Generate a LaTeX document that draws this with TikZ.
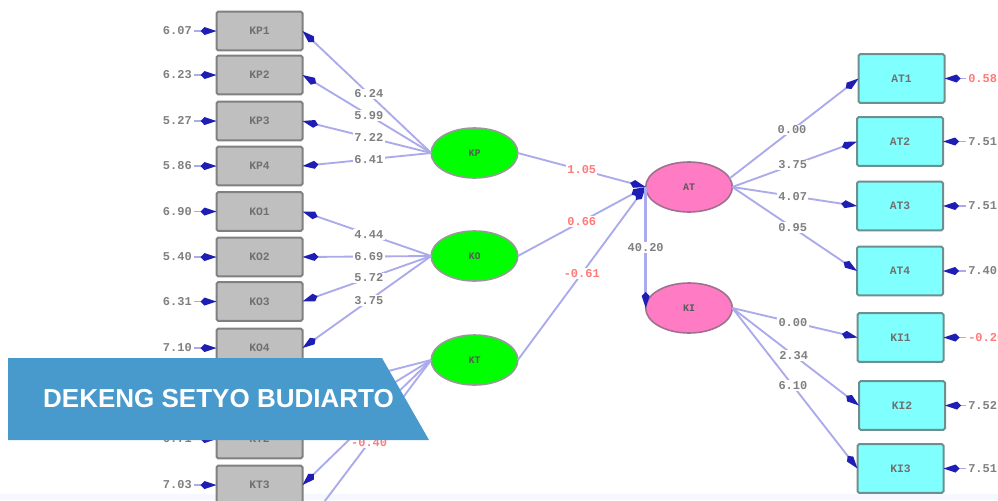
\documentclass[tikz,border=0pt]{standalone}
\usepackage{fontspec}
\setmainfont{Liberation Sans}
\newfontfamily\lisrel{Liberation Mono}
\usetikzlibrary{arrows.meta,shapes.geometric}
\definecolor{linecol}{HTML}{ABABEC}
\definecolor{tipcol}{HTML}{1E1EB4}
\definecolor{labgray}{HTML}{808080}
\definecolor{boxtext}{HTML}{707070}
\definecolor{labred}{HTML}{FF7A7A}
\definecolor{bannercol}{HTML}{4899CC}
\definecolor{cyanfill}{HTML}{80FFFF}
\definecolor{pinkfill}{HTML}{FF7CC4}
\definecolor{pinkedge}{HTML}{A07090}
\definecolor{cyanedge}{HTML}{6C9090}
\tikzset{
  x=0.75pt,y=-0.75pt,
  gbox/.style={draw=black!50,line width=1.5pt,rounded corners=1.2pt,fill=black!25,minimum width=64.5pt,minimum height=29pt,inner sep=0pt,outer sep=0pt,font=\lisrel\fontsize{8.5}{9}\selectfont\bfseries,text=boxtext},
  cbox/.style={draw=cyanedge,line width=1.5pt,rounded corners=1.2pt,fill=cyanfill,minimum width=64.5pt,minimum height=36.5pt,inner sep=0pt,outer sep=0pt,font=\lisrel\fontsize{8.5}{9}\selectfont\bfseries,text=boxtext},
  latent/.style={ellipse,line width=1.2pt,minimum width=65pt,minimum height=37.5pt,inner sep=0pt,outer sep=0pt,font=\lisrel\fontsize{7.5}{9}\selectfont\bfseries,text=black!65},
  ggreen/.style={latent,fill=green,draw=black!40},
  gpink/.style={latent,fill=pinkfill,draw=pinkedge},
  lab/.style={font=\lisrel\fontsize{9}{9}\selectfont\bfseries,text=labgray,inner sep=1pt,fill=white,pos=.484},
  elab/.style={font=\lisrel\fontsize{9}{9}\selectfont\bfseries,text=labgray,inner sep=1.5pt},
  redlab/.style={lab,text=labred},
  arr/.style={draw=linecol,line width=1.4pt,-{Kite[length=12pt,width=6pt,inset=3pt,color=tipcol]}},
  plain/.style={draw=linecol,line width=1.4pt},
  banner/.style={fill=bannercol,draw=none},
  bannertext/.style={text=white,font=\fontsize{19.5}{21}\selectfont\bfseries,inner sep=0pt}
}
\begin{document}
\begin{tikzpicture}
\clip (0,0) rectangle (998,500);
\fill[white] (0,0) rectangle (998,500);
\fill[blue!3] (0,494) rectangle (998,500);
% observed, left
\node[gbox] (kp1) at (259.5,31) {KP1};
\node[gbox] (kp2) at (259.5,75) {KP2};
\node[gbox] (kp3) at (259.5,121) {KP3};
\node[gbox] (kp4) at (259.5,166) {KP4};
\node[gbox] (ko1) at (259.5,211.5) {KO1};
\node[gbox] (ko2) at (259.5,257) {KO2};
\node[gbox] (ko3) at (259.5,301.5) {KO3};
\node[gbox] (ko4) at (259.5,348) {KO4};
\node[gbox] (kt1) at (259.5,393) {};
\node[gbox] (kt2) at (259.5,439) {KT2};
\node[gbox] (kt3) at (259.5,485) {KT3};
\coordinate (kt4) at (303,530);
% error labels, left
\foreach \n/\t/\y in {kp1/6.07/31,kp2/6.23/75,kp3/5.27/121,kp4/5.86/166,ko1/6.90/211.5,ko2/5.40/257,ko3/6.31/301.5,ko4/7.10/348,kt2/6.71/439,kt3/7.03/485}{
  \node[elab,anchor=east] (e\n) at (194,\y) {\t};
  \draw[arr] (e\n) -- (\n);
}
% latent
\node[ggreen] (kp) at (474.5,153) {KP};
\node[ggreen] (ko) at (474.5,256) {KO};
\node[ggreen] (kt) at (474.5,360) {KT};
\node[gpink] (at) at (689,187) {AT};
\node[gpink] (ki) at (689,308) {KI};
% observed, right
\node[cbox] (at1) at (901.5,78.5) {AT1};
\node[cbox] (at2) at (900,141.5) {AT2};
\node[cbox] (at3) at (900,206) {AT3};
\node[cbox] (at4) at (900,271) {AT4};
\node[cbox] (ki1) at (900.5,337.5) {KI1};
\node[cbox] (ki2) at (902,405.5) {KI2};
\node[cbox] (ki3) at (900.5,468.5) {KI3};
% loadings
\draw[arr] (kp.west) -- node[lab]{6.24} (kp1.east);
\draw[arr] (kp.west) -- node[lab]{5.99} (kp2.east);
\draw[arr] (kp.west) -- node[lab]{7.22} (kp3.east);
\draw[arr] (kp.west) -- node[lab]{6.41} (kp4.east);
\draw[arr] (ko.west) -- node[lab]{4.44} (ko1.east);
\draw[arr] (ko.west) -- node[lab]{6.69} (ko2.east);
\draw[arr] (ko.west) -- node[lab]{5.72} (ko3.east);
\draw[arr] (ko.west) -- node[lab]{3.75} (ko4.east);
\draw[arr] (kt.west) -- (kt1.east);
\draw[arr] (kt.west) -- (kt2.east);
\draw[arr] (kt.west) -- (kt3.east);
\draw[plain] (kt.west) -- node[redlab]{-0.40} (kt4);
% structural
\draw[arr] (kp.east) -- node[redlab,pos=.5]{1.05} (at.west);
\draw[arr] (ko.east) -- node[redlab,pos=.5]{0.66} (at.west);
\draw[arr] (kt.east) -- node[redlab,pos=.5]{-0.61} (at.west);
\draw[arr,line width=1.9pt] (at.west) -- node[lab,pos=.5]{40.20} (ki.west);
% right loadings
\draw[arr] (at.12) -- node[lab]{0.00} (at1.west);
\draw[arr] (at.east) -- node[lab]{3.75} (at2.west);
\draw[arr] (at.east) -- node[lab]{4.07} (at3.west);
\draw[arr] (at.east) -- node[lab]{0.95} (at4.west);
\draw[arr] (ki.east) -- node[lab]{0.00} (ki1.west);
\draw[arr] (ki.east) -- node[lab]{2.34} (ki2.west);
\draw[arr] (ki.east) -- node[lab]{6.10} (ki3.west);
% error labels, right
\foreach \n/\t/\y/\c in {at1/0.58/78.5/labred,at2/7.51/141.5/labgray,at3/7.51/206/labgray,at4/7.40/271/labgray,ki1/-0.20/337.5/labred,ki2/7.52/405.5/labgray,ki3/7.51/468.5/labgray}{
  \node[elab,anchor=west,text=\c] (e\n) at (966,\y) {\t};
  \draw[arr] (e\n) -- (\n);
}
% banner
\path[banner] (8,358) -- (382,358) -- (429,440) -- (8,440) -- cycle;
\node[bannertext] (title) at (218.5,399) {DEKENG SETYO BUDIARTO};
\end{tikzpicture}
\end{document}
